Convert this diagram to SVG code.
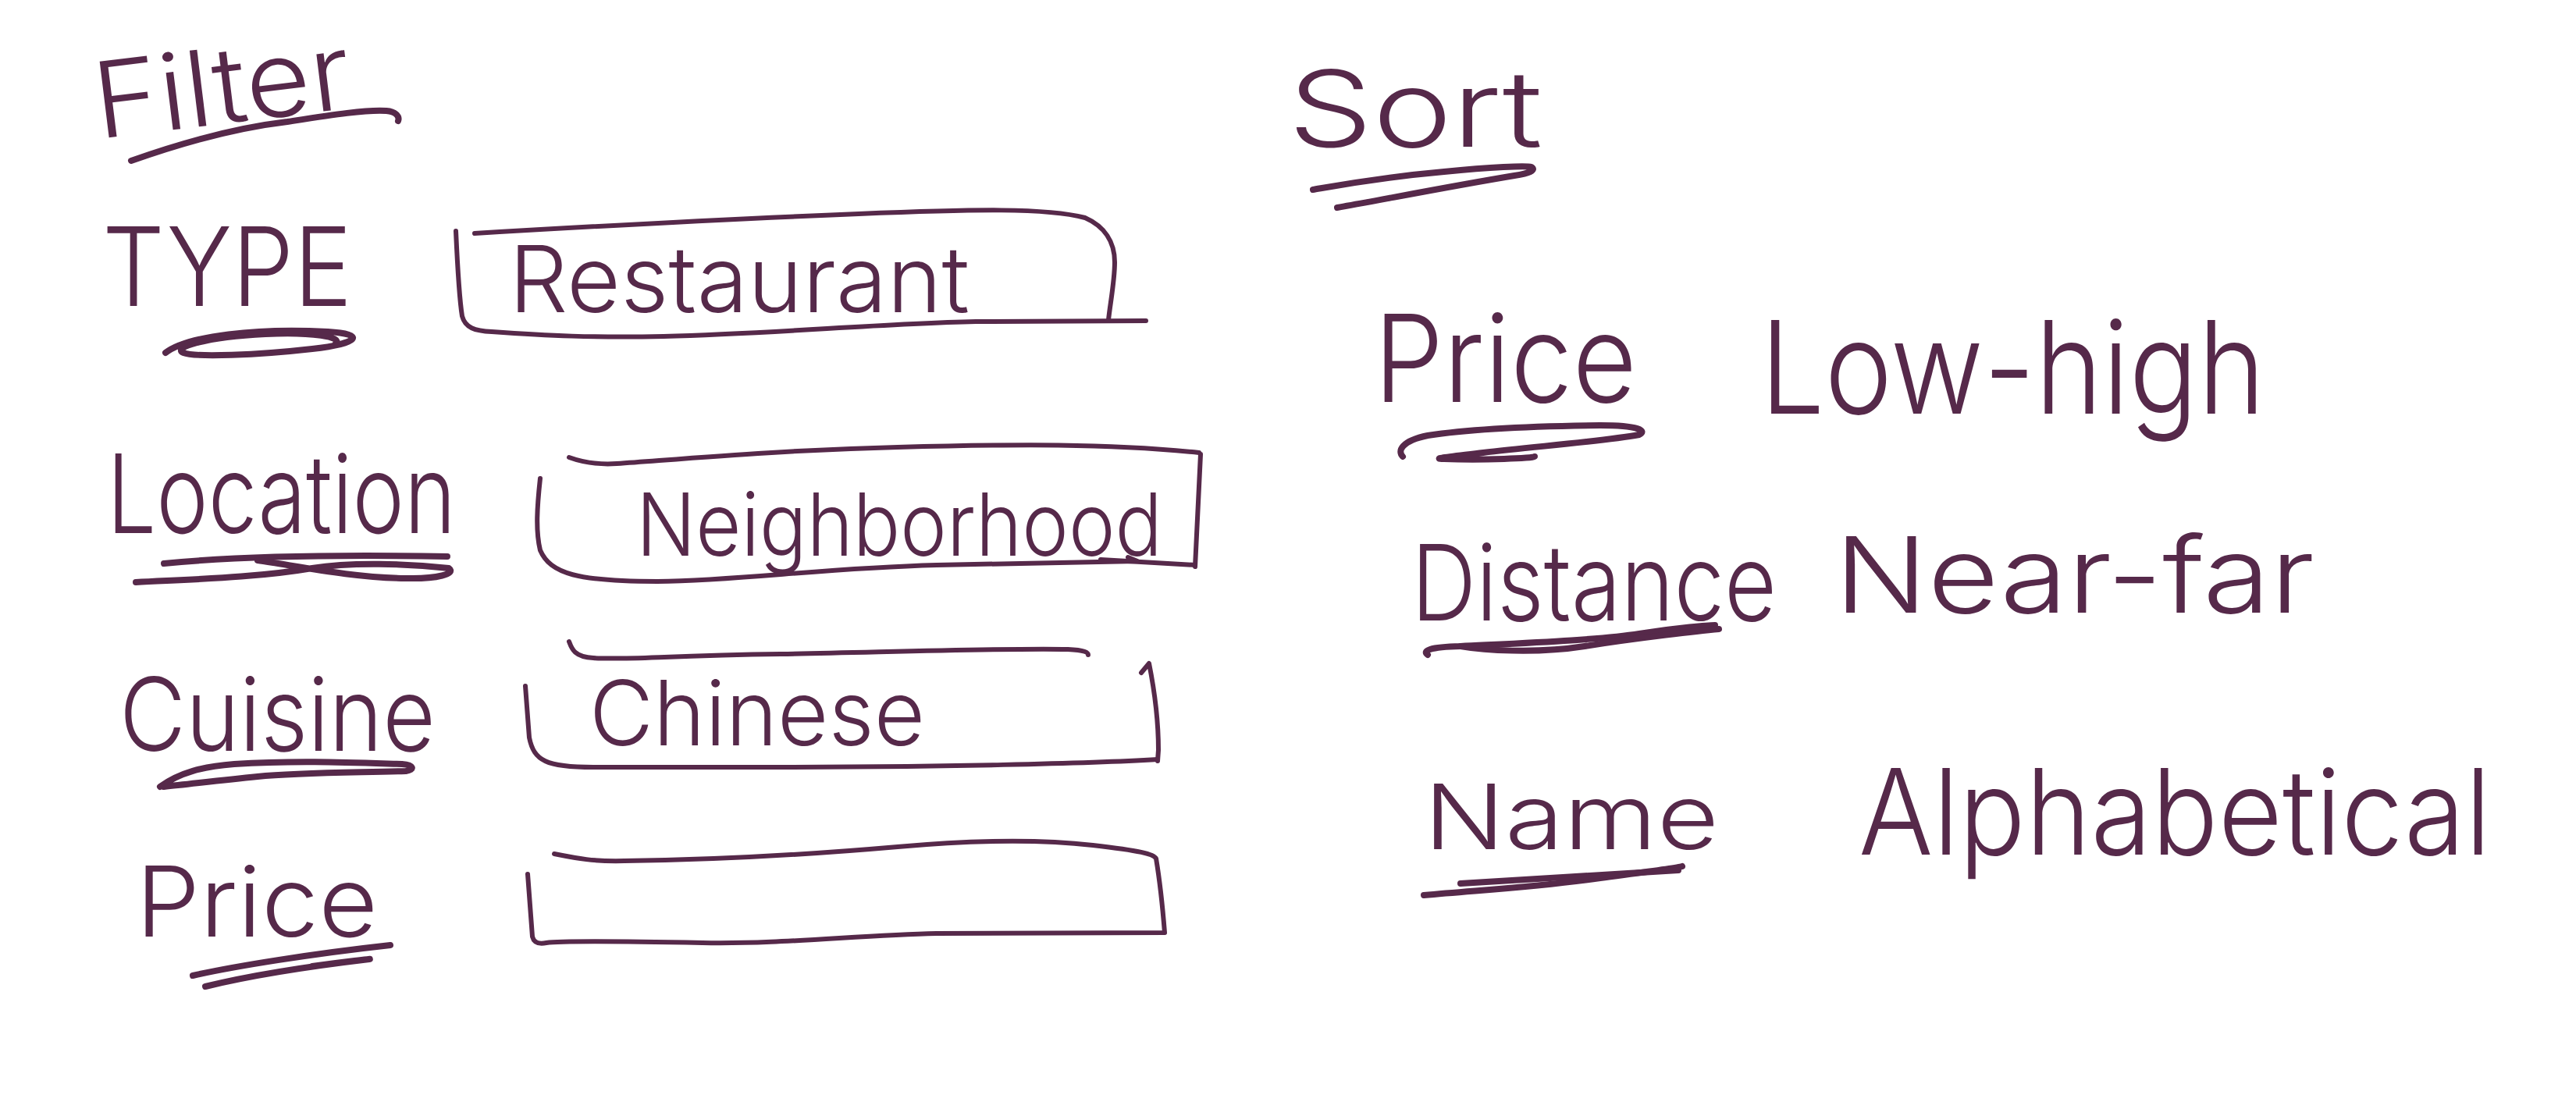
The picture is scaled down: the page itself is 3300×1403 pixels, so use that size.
<svg xmlns="http://www.w3.org/2000/svg" width="3300" height="1403" viewBox="0 0 3300 1403">
<style>
.t{font-family:Inter,"Open Sans","Liberation Sans",sans-serif;font-weight:300;fill:#56294a}
.b{fill:none;stroke:#56294a;stroke-width:6;stroke-linecap:round;stroke-linejoin:round}
.u{fill:none;stroke:#56294a;stroke-width:8;stroke-linecap:round;stroke-linejoin:round}
</style>
<rect width="3300" height="1403" fill="#ffffff"/>
<g id="filter-title">
<text class="t" x="126" y="178" font-size="135" textLength="330" lengthAdjust="spacingAndGlyphs" transform="rotate(-7 126 178)">Filter</text>
<path class="u" d="M168,206 C230,184 300,164 368,156 C420,148 470,140 495,142 C508,143 512,150 510,155"/>
</g>
<g id="type-label">
<text class="t" x="131" y="392" font-size="140" textLength="320" lengthAdjust="spacingAndGlyphs">TYPE</text>
<path class="u" d="M212,452 C240,430 330,420 420,425 C470,428 460,440 400,447 C330,455 250,458 235,452 C220,446 260,432 340,428 C400,425 440,432 430,440"/>
</g>
<g id="type-box">
<path class="b" d="M608,299 C760,290 950,280 1100,274 C1250,268 1340,266 1390,279 C1415,290 1428,310 1428,336 C1428,360 1422,390 1420,410"/>
<path class="b" d="M584,296 C586,340 588,380 592,405 C596,420 608,424 630,425 C700,430 760,433 850,431 C1000,427 1120,415 1250,412 L1468,411"/>
<text class="t" x="652" y="400" font-size="118" textLength="590" lengthAdjust="spacingAndGlyphs">Restaurant</text>
</g>
<g id="location-label">
<text class="t" x="137" y="683" font-size="140" textLength="447" lengthAdjust="spacingAndGlyphs">Location</text>
<path class="u" d="M210,722 C280,715 400,710 573,713"/>
<path class="u" d="M174,746 C250,742 330,740 400,728 C450,720 520,722 575,728 C585,735 560,742 520,741 C450,740 380,725 330,718"/>
</g>
<g id="location-box">
<path class="b" d="M729,586 C740,590 760,596 790,594 C900,586 1000,577 1150,573 C1300,569 1420,568 1536,580"/>
<path class="b" d="M1538,582 L1531,726"/>
<path class="b" d="M1410,717 L1531,724"/>
<path class="b" d="M692,613 C688,650 686,680 692,705 C705,735 740,745 842,745 C950,744 1050,728 1200,724 L1457,719 L1445,714"/>
<text class="t" x="815" y="712" font-size="112" textLength="674" lengthAdjust="spacingAndGlyphs">Neighborhood</text>
</g>
<g id="cuisine-label">
<text class="t" x="153" y="962" font-size="130" textLength="405" lengthAdjust="spacingAndGlyphs">Cuisine</text>
<path class="u" d="M205,1008 C230,990 260,982 300,979 C380,974 450,977 515,979 C530,980 532,986 520,988 C450,990 380,990 330,995 C280,1000 240,1005 210,1008"/>
</g>
<g id="cuisine-box">
<path class="b" d="M729,822 C732,830 735,842 760,843 C800,846 850,840 1000,838 C1150,835 1300,830 1368,832 C1390,833 1394,836 1394,839"/>
<path class="b" d="M1462,862 L1472,850 C1478,880 1484,920 1484,961 L1483,975"/>
<path class="b" d="M1483,973 C1400,978 1200,983 1000,983 L760,983 C700,983 684,975 678,945 L673,879"/>
<text class="t" x="755" y="955" font-size="115" textLength="430" lengthAdjust="spacingAndGlyphs">Chinese</text>
</g>
<g id="price-label">
<text class="t" x="174" y="1200" font-size="125" textLength="310" lengthAdjust="spacingAndGlyphs">Price</text>
<path class="u" d="M247,1250 C300,1238 400,1222 500,1211"/>
<path class="u" d="M263,1264 C320,1250 380,1240 473,1229 C480,1228 440,1232 400,1238"/>
</g>
<g id="price-box">
<path class="b" d="M710,1094 C740,1100 760,1104 800,1103 C900,1102 1000,1098 1150,1085 C1250,1076 1330,1075 1400,1083 C1460,1090 1478,1094 1481,1100 C1486,1130 1490,1170 1492,1195 L1200,1196 C1100,1198 1000,1210 900,1208 C800,1206 720,1205 700,1208 C690,1210 684,1208 682,1200 L676,1120"/>
</g>
<g id="sort-title">
<text class="t" x="1650" y="188" font-size="135" textLength="326" lengthAdjust="spacingAndGlyphs">Sort</text>
<path class="u" d="M1682,243 C1700,240 1760,228 1850,220 C1910,214 1955,212 1962,214 C1968,218 1960,222 1940,225 C1850,240 1760,258 1713,266"/>
</g>
<g id="sort-price">
<text class="t" x="1760" y="515" font-size="155" textLength="337" lengthAdjust="spacingAndGlyphs">Price</text>
<path class="u" d="M1797,585 C1790,578 1795,565 1829,558 C1880,550 1966,546 2050,545 C2100,545 2110,552 2100,557 C2050,566 1966,572 1900,580 C1860,585 1830,588 1850,588 C1900,590 1966,587 1966,585"/>
<text class="t" x="2255" y="530" font-size="165" textLength="647" lengthAdjust="spacingAndGlyphs">Low-high</text>
</g>
<g id="sort-distance">
<text class="t" x="1808" y="795" font-size="135" textLength="468" lengthAdjust="spacingAndGlyphs">Distance</text>
<path class="u" d="M1829,839 C1822,834 1830,829 1871,828 C1950,824 2050,820 2100,812 C2150,804 2190,801 2197,801"/>
<path class="u" d="M1871,828 C1900,833 1966,838 2030,828 C2100,817 2180,808 2202,806"/>
<text class="t" x="2350" y="785" font-size="135" textLength="615" lengthAdjust="spacingAndGlyphs">Near-far</text>
</g>
<g id="sort-name">
<text class="t" x="1824" y="1088" font-size="115" textLength="378" lengthAdjust="spacingAndGlyphs">Name</text>
<path class="u" d="M1824,1147 C1900,1140 1966,1137 2050,1125 C2110,1117 2150,1112 2155,1110"/>
<path class="u" d="M1871,1132 C1950,1127 2071,1120 2150,1115"/>
<text class="t" x="2381" y="1095" font-size="152" textLength="810" lengthAdjust="spacingAndGlyphs">Alphabetical</text>
</g>
</svg>
